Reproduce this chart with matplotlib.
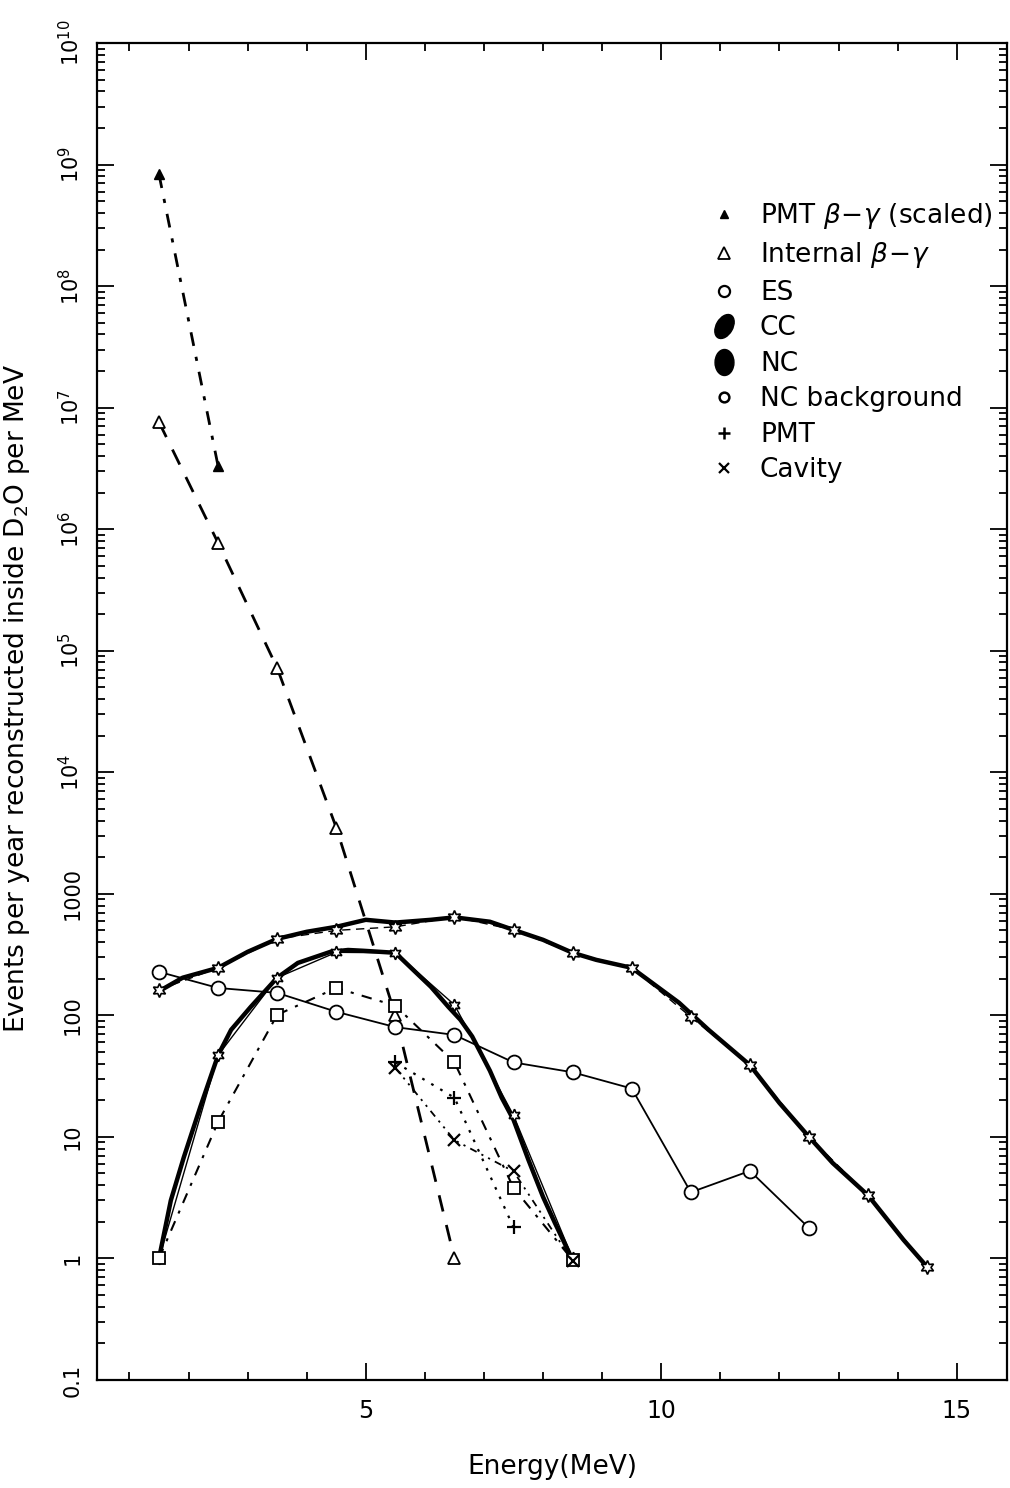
import matplotlib
matplotlib.use("Agg")
import matplotlib.pyplot as plt
from matplotlib.lines import Line2D
from matplotlib.markers import MarkerStyle
from matplotlib.transforms import Affine2D
from matplotlib.ticker import FixedLocator, FixedFormatter, MultipleLocator, NullFormatter

plt.rcParams['font.family'] = ['DejaVu Sans']
plt.rcParams['mathtext.fontset'] = 'dejavusans'

# ---------------- data ----------------
pmt_bg_scaled_E = [1.5, 2.5]
pmt_bg_scaled_v = [8.3e8, 3.3e6]

internal_bg_E = [1.5, 2.5, 3.5, 4.5, 5.5, 6.5]
internal_bg_v = [7.6e6, 7.7e5, 7.2e4, 3.5e3, 100, 1.0]

es_E = [1.5, 2.5, 3.5, 4.5, 5.5, 6.5, 7.5, 8.5, 9.5, 10.5, 11.5, 12.5]
es_v = [228, 168, 153, 107, 80, 69, 41, 34, 25, 3.5, 5.25, 1.78]

cc_E = [1.5, 2.5, 3.5, 4.5, 5.5, 6.5, 7.5, 8.5, 9.5, 10.5, 11.5, 12.5, 13.5, 14.5]
cc_v = [162, 246, 426, 500, 535, 647, 505, 327, 246, 97, 39, 10, 3.3, 0.85]

cc_curve_E = [1.5, 1.9, 2.5, 3.0, 3.5, 4.0, 4.5, 5.0, 5.5, 6.1, 6.5, 7.1, 7.5, 8.0,
              8.5, 8.9, 9.5, 10.3, 10.8, 11.5, 12.0, 12.5, 12.9, 13.5, 14.1, 14.5]
cc_curve_v = [158, 204, 246, 333, 426, 487, 535, 611, 580, 611, 640, 589, 505, 418,
              327, 286, 246, 127, 76, 39, 19, 10, 6.1, 3.3, 1.42, 0.85]

nc_E = [1.5, 2.5, 3.5, 4.5, 5.5, 6.5, 7.5, 8.5]
nc_v = [1.0, 47, 204, 330, 327, 122, 15, 1.0]

nc_curve_E = [1.5, 1.7, 1.92, 2.2, 2.5, 2.72, 3.05, 3.5, 3.85, 4.4, 4.7, 4.95, 5.5,
              5.8, 6.1, 6.4, 6.6, 6.8, 7.1, 7.3, 7.5, 7.75, 8.0, 8.2, 8.5]
nc_curve_v = [1.0, 3.0, 6.8, 17.7, 47, 76, 117, 204, 270, 333, 345, 340, 327,
              237, 172, 117, 92, 67, 35, 21, 13.8, 6.5, 3.2, 1.96, 0.97]

ncbg_E = [1.5, 2.5, 3.5, 4.5, 5.5, 6.5, 7.5, 8.5]
ncbg_v = [1.0, 13.3, 101, 168, 120, 41, 3.8, 0.97]

pmt_E = [5.5, 6.5, 7.5]
pmt_v = [41, 21, 1.8]

cavity_E = [5.5, 6.5, 7.5, 8.5]
cavity_v = [37, 9.4, 5.2, 0.95]

ytick_vals = [0.1, 1, 10, 100, 1000, 1e4, 1e5, 1e6, 1e7, 1e8, 1e9, 1e10]
ytick_labels = ['0.1', '1', '10', '100', '1000', r'10$^4$', r'10$^5$', r'10$^6$',
                r'10$^7$', r'10$^8$', r'10$^9$', r'10$^{10}$']

legend_labels = [r'PMT $\beta\!-\!\gamma$ (scaled)', r'Internal $\beta\!-\!\gamma$', 'ES', 'CC', 'NC',
                 'NC background', 'PMT', 'Cavity']

# ---------------- figure ----------------
fig = plt.figure(figsize=(10.1, 14.88), dpi=100)
ax = fig.add_axes([0.096, 0.0726, 0.901, 0.8985])

star6 = (6, 1, 0)
k = 'black'

ax.plot(pmt_bg_scaled_E, pmt_bg_scaled_v, color=k, lw=2.0, ls=(0, (5, 4, 1.5, 4)),
        marker='^', ms=7, mfc=k, mec=k)
ax.plot(internal_bg_E, internal_bg_v, color=k, lw=2.0, ls=(0, (6, 5)),
        marker='^', ms=9, mfc='white', mec=k, mew=1.3)
ax.plot(cc_curve_E, cc_curve_v, color=k, lw=3.2, solid_joinstyle='round')
ax.plot(cc_E, cc_v, color=k, lw=1.0, ls=(0, (6, 4)), marker=star6, ms=10,
        mfc='white', mec=k, mew=1.2)
ax.plot(nc_curve_E, nc_curve_v, color=k, lw=3.2, solid_joinstyle='round')
ax.plot(nc_E, nc_v, color=k, lw=1.0, marker=star6, ms=9, mfc='white', mec=k, mew=1.2)
ax.plot(ncbg_E, ncbg_v, color=k, lw=1.5, ls=(0, (5, 4, 1.5, 4)),
        marker='s', ms=8, mfc='white', mec=k, mew=1.3)
ax.plot(pmt_E, pmt_v, color=k, lw=1.6, ls=(0, (1.2, 3.5)),
        marker='+', ms=10, mew=1.6)
ax.plot(cavity_E, cavity_v, color=k, lw=1.3, ls=(0, (4, 3, 1.2, 3, 1.2, 3)),
        marker='x', ms=8, mew=1.6)
ax.plot(es_E, es_v, color=k, lw=1.3, marker='o', ms=10, mfc='white', mec=k, mew=1.3)

ax.set_yscale('log')
ax.set_ylim(0.1, 1e10)
ax.set_xlim(0.45, 15.85)

ax.yaxis.set_major_locator(FixedLocator(ytick_vals))
ax.yaxis.set_major_formatter(FixedFormatter(ytick_labels))
ax.yaxis.set_minor_locator(matplotlib.ticker.LogLocator(base=10, subs=range(2, 10), numticks=50))
ax.yaxis.set_minor_formatter(NullFormatter())
ax.xaxis.set_major_locator(MultipleLocator(5))
ax.xaxis.set_minor_locator(MultipleLocator(1))

ax.tick_params(which='both', direction='in', top=True, right=True, width=1.3, colors=k)
ax.tick_params(which='major', length=12)
ax.tick_params(which='minor', length=6)
ax.tick_params(axis='x', which='major', labelsize=17, pad=14)
ax.tick_params(axis='y', which='major', labelsize=15, pad=10, labelrotation=90)
for lab in ax.get_yticklabels():
    lab.set_va('center')
for sp in ax.spines.values():
    sp.set_linewidth(1.6)

ax.set_xlabel('Energy(MeV)', fontsize=19, labelpad=22)
ax.set_ylabel(r'Events per year reconstructed inside D$_2$O per MeV', fontsize=19)
ax.yaxis.set_label_coords(-0.071, 0.51)

cc_blob = MarkerStyle('o', transform=Affine2D().scale(0.7, 1.1).rotate_deg(-30))
nc_blob = MarkerStyle('o', transform=Affine2D().scale(0.8, 1.1))
handles = [
    Line2D([], [], ls='none', marker='^', ms=6, mfc=k, mec=k),
    Line2D([], [], ls='none', marker='^', ms=8, mfc='white', mec=k, mew=1.3),
    Line2D([], [], ls='none', marker='o', ms=8, mfc='white', mec=k, mew=1.6),
    Line2D([], [], ls='none', marker=cc_blob, ms=17, mfc=k, mec=k),
    Line2D([], [], ls='none', marker=nc_blob, ms=17, mfc=k, mec=k),
    Line2D([], [], ls='none', marker='o', ms=7, mfc='white', mec=k, mew=1.8),
    Line2D([], [], ls='none', marker='+', ms=9, mew=1.8, color=k),
    Line2D([], [], ls='none', marker='x', ms=7, mew=1.6, color=k),
]
leg = ax.legend(handles, legend_labels, loc='upper left', bbox_to_anchor=(0.672, 0.882),
                frameon=False, fontsize=19, handlelength=1.2, handletextpad=0.75,
                labelspacing=0.36, borderaxespad=0, borderpad=0)

fig.savefig('out.png', dpi=100, facecolor='white')
